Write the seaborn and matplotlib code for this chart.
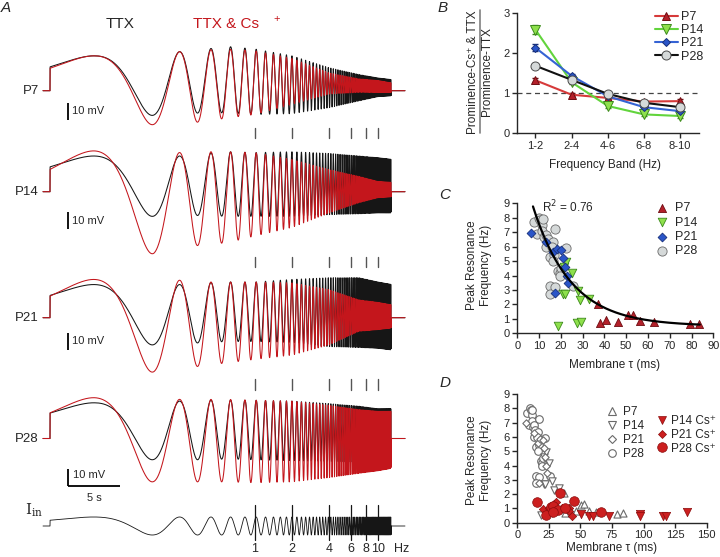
import numpy as np
import pandas as pd
import matplotlib
matplotlib.use("Agg")
import matplotlib.pyplot as plt
import seaborn as sns
from matplotlib.lines import Line2D

# ======================= DATA =======================
# ---- Panel A: exponential chirp stimulus and voltage responses
CHIRP_F0 = 0.0215      # Hz at sweep start
CHIRP_F1 = 12.8        # Hz at sweep end
CHIRP_DUR = 32.8       # s
FREQ_MARKS = [1, 2, 4, 6, 8, 10]
ROWS = ["P7", "P14", "P21", "P28"]
ENV_F = [0.05, 0.15, 0.25, 0.4, 0.6, 1, 2, 4, 7, 10, 13]   # Hz
# upper / lower excursion from rest (mV): TTX (black) and TTX & Cs+ (red)
P7_TTX_UP = [20.5, 22, 23, 24.5, 26, 24.5, 20.5, 13.5, 9.5, 7.5, 6.5]
P7_TTX_LO = [-15.5, -14.5, -13.5, -13, -13, -14, -13.5, -10, -6, -3.5, -3]
P7_CS_UP = [20.5, 22, 23, 24, 24.5, 23.5, 19, 10.5, 7, 6, 4.5]
P7_CS_LO = [-20, -20, -19.5, -18, -16, -14, -8, -2, -1, -1, -1]
P14_TTX_UP = [21, 21, 21, 22.5, 23.5, 23, 23.5, 22.5, 21, 20, 19]
P14_TTX_LO = [-14.5, -14.5, -14, -14, -14.5, -14.5, -14.5, -13.5, -13, -12.5, -12.5]
P14_CS_UP = [24, 23.5, 23, 23.5, 23.5, 23, 19, 13, 9, 6, 5.5]
P14_CS_LO = [-36.5, -36.5, -33, -31, -30, -26, -21, -12.5, -6.5, -3.5, -3]
P21_TTX_UP = [19.5, 19.5, 19.5, 20.5, 21, 21, 22.5, 23.5, 23.5, 21, 19.5]
P21_TTX_LO = [-16, -16, -15.5, -14.5, -14, -14, -14.5, -17, -17.5, -18, -19]
P21_CS_UP = [22.5, 22.5, 22, 21, 21, 21, 20.5, 16.5, 10.5, 9, 7.5]
P21_CS_LO = [-32, -32, -30, -28, -26.5, -24.5, -22, -16, -8, -7, -6]
P28_TTX_UP = [21, 22, 22, 22.5, 22.5, 22.5, 22, 20.5, 19, 17.5, 17.5]
P28_TTX_LO = [-12.5, -12.5, -12.5, -12.5, -12, -12.5, -13, -13.5, -14, -14, -14]
P28_CS_UP = [24, 23.5, 23, 23, 23, 22.5, 22, 19.5, 17, 16, 16]
P28_CS_LO = [-25.5, -25.5, -25.5, -25.5, -25.5, -26, -25.5, -23, -20.5, -19, -17.5]
IIN_AMP = 5.3          # stimulus drawing amplitude

# ---- Panel B
B_BANDS = ["1-2", "2-4", "4-6", "6-8", "8-10"]
B_P7 = [1.32, 0.96, 0.88, 0.79, 0.80]
B_P14 = [2.58, 1.27, 0.68, 0.47, 0.43]
B_P21 = [2.13, 1.43, 0.92, 0.65, 0.55]
B_P28 = [1.68, 1.33, 0.98, 0.76, 0.65]
B_P7_SEM = [0.05, 0.04, 0.03, 0.03, 0.05]
B_P14_SEM = [0.12, 0.05, 0.04, 0.04, 0.04]
B_P21_SEM = [0.08, 0.05, 0.04, 0.03, 0.03]
B_P28_SEM = [0.04, 0.03, 0.03, 0.03, 0.03]

# ---- Panel C (membrane tau ms, peak resonance frequency Hz)
C_P7_TAU = [37.2, 37.8, 40.8, 46.2, 50.8, 53.1, 56.5, 62.6, 79.1, 83.5]
C_P7_F = [2.05, 0.69, 0.95, 0.8, 1.25, 1.3, 0.85, 0.75, 0.62, 0.65]
C_P14_TAU = [18.5, 20.8, 22.0, 21.5, 22.4, 25.1, 27.7, 27.6, 29.2, 28.8, 33.1]
C_P14_F = [0.53, 2.7, 2.7, 4.6, 4.95, 4.2, 2.9, 0.68, 0.75, 2.3, 2.4]
C_P21_TAU = [6.5, 13.2, 16.4, 18.0, 20.2, 21.2, 22.0, 22.6, 23.2, 17.4]
C_P21_F = [6.95, 6.3, 5.6, 5.85, 5.8, 5.2, 4.6, 4.0, 3.45, 2.8]
C_P28_TAU = [7.7, 10.0, 10.5, 11.5, 9.2, 11.5, 12.3, 13.4, 14.3, 13.1, 16.2, 15.8, 14.9,
             16.9, 17.4, 22.3, 18.5, 19.7, 14.9, 17.4, 14.9, 25.8, 20.0, 16.5, 19.5, 12.0]
C_P28_F = [7.7, 8.0, 7.85, 7.5, 6.85, 7.1, 6.7, 6.8, 6.5, 6.0, 6.35, 6.0, 5.3,
           5.4, 7.25, 5.9, 4.3, 4.15, 3.3, 3.2, 2.75, 3.3, 4.5, 5.0, 4.0, 7.9]
C_FIT = (12.5, 17.5, 0.5)      # a, tau, c of exponential fit
C_FIT_RANGE = (7.2, 83.8)
C_R2 = 0.76

# ---- Panel D, Cs+ data
D_P14CS_TAU = [50.4, 57.0, 59.7, 73.0, 96.9, 97.4, 115.5, 118.1, 134.6]
D_P14CS_F = [0.6, 0.5, 0.5, 0.45, 0.6, 0.45, 0.5, 0.5, 0.75]
D_P21CS_TAU = [20.4, 25.2, 27.3, 29.2, 31.0, 35.3, 40.6, 41.0, 43.3]
D_P21CS_F = [0.93, 1.05, 0.84, 1.3, 1.45, 1.0, 1.0, 0.8, 0.5]
D_P28CS_TAU = [15.9, 22.6, 26.5, 28.4, 31.9, 33.7, 45.1, 38.0, 66.4, 27.9]
D_P28CS_F = [1.45, 0.55, 1.1, 1.2, 0.9, 2.05, 1.5, 1.0, 0.72, 0.75]

# ======================= STYLE =======================
sns.set_style("ticks")
plt.rcParams["font.family"] = ["Liberation Sans", "DejaVu Sans"]
plt.rcParams.update({
    "axes.linewidth": 1.0, "xtick.major.width": 1.0, "ytick.major.width": 1.0,
    "xtick.major.size": 3.5, "ytick.major.size": 3.5,
    "xtick.labelsize": 8, "ytick.labelsize": 8,
    "xtick.major.pad": 2, "ytick.major.pad": 2,
})

W, H = 720, 557
fig = plt.figure(figsize=(W / 100, H / 100), dpi=100)


def fpos(l, t, r, b):
    return [l / W, 1 - b / H, (r - l) / W, (b - t) / H]


def ftext(x, y, s, **kw):
    kw.setdefault("ha", "center")
    kw.setdefault("va", "center")
    fig.text(x / W, 1 - y / H, s, **kw)


RED = "#c4161c"
BLACK = "#161616"

# ======================= PANEL A =======================
PX_PER_S, PX_PER_MV, X0 = 10.4, 1.7, 50.0


def tx(xpx):
    return (xpx - X0) / PX_PER_S


def vy(ypx):
    return (H - ypx) / PX_PER_MV


axA = fig.add_axes([0, 0, 430 / W, 1])
axA.set_xlim(tx(0), tx(430))
axA.set_ylim(vy(H), vy(0))
axA.axis("off")

K = CHIRP_DUR / np.log(CHIRP_F1 / CHIRP_F0)
t = np.linspace(tx(43), tx(405), 40000)
on = (t >= 0) & (t <= CHIRP_DUR)
f_inst = CHIRP_F0 * np.exp(t / K)
stim = np.where(on, np.sin(2 * np.pi * f_inst * K), 0.0)
lf = np.log(np.clip(f_inst, ENV_F[0], ENV_F[-1]))


def response(up, lo):
    u = np.interp(lf, np.log(ENV_F), up)
    l = np.interp(lf, np.log(ENV_F), lo)
    return np.where(on, (u + l) / 2 + (u - l) / 2 * stim, 0.0)


TRACES = {
    "P7": (P7_TTX_UP, P7_TTX_LO, P7_CS_UP, P7_CS_LO),
    "P14": (P14_TTX_UP, P14_TTX_LO, P14_CS_UP, P14_CS_LO),
    "P21": (P21_TTX_UP, P21_TTX_LO, P21_CS_UP, P21_CS_LO),
    "P28": (P28_TTX_UP, P28_TTX_LO, P28_CS_UP, P28_CS_LO),
}
ROW_Y = {"P7": 90.7, "P14": 191.7, "P21": 317.7, "P28": 438.5}
BAR_BOTTOM = {"P7": 120, "P14": 229, "P21": 350, "P28": 486}

for row in ROWS:
    bu, bl, ru, rl = TRACES[row]
    base = vy(ROW_Y[row])
    sns.lineplot(x=t, y=base + response(bu, bl), ax=axA, color=BLACK, lw=0.75,
                 estimator=None, sort=False)
    sns.lineplot(x=t, y=base + response(ru, rl), ax=axA, color=RED, lw=0.75,
                 estimator=None, sort=False)
    ftext(39, ROW_Y[row], row, ha="right", fontsize=9.5)
    # 10 mV scale bar
    yb = vy(BAR_BOTTOM[row])
    axA.plot([tx(68), tx(68)], [yb, yb + 10], color="black", lw=1.3,
             solid_capstyle="butt")
    if row != "P28":
        axA.text(tx(72), yb + 5, "10 mV", fontsize=8, ha="left", va="center")

# L-shaped bar for P28
yb = vy(BAR_BOTTOM["P28"])
axA.plot([tx(68), tx(68) + 5], [yb, yb], color="black", lw=1.3, solid_capstyle="butt")
axA.text(tx(73), yb + 6.5, "10 mV", fontsize=8, ha="left", va="center")
axA.text(tx(68) + 2.5, vy(498), "5 s", fontsize=8, ha="center", va="center")

# frequency marks between rows
t_marks = [K * np.log(f / CHIRP_F0) for f in FREQ_MARKS]
for y0, y1 in [(128, 138), (257, 267), (379, 390)]:
    for tm in t_marks:
        axA.plot([tm, tm], [vy(y1), vy(y0)], color="#555555", lw=1.0)

# stimulus current
base_i = vy(526)
sns.lineplot(x=t, y=base_i + IIN_AMP * stim, ax=axA, color=BLACK, lw=0.6,
             estimator=None, sort=False)
for f, tm in zip(FREQ_MARKS, t_marks):
    axA.plot([tm, tm], [vy(540), vy(505)], color=BLACK, lw=0.9)
    axA.text(tm, vy(549), str(f), fontsize=9, ha="center", va="center")
axA.text(tx(402), vy(549), "Hz", fontsize=9, ha="center", va="center")
ftext(34, 510, r"$\mathregular{I}_{\mathregular{in}}$", fontsize=11,
      family=["DejaVu Serif"])

ftext(6, 8, "A", fontsize=11, style="italic")
ftext(120, 24, "TTX", fontsize=11)
ftext(193, 24, "TTX & Cs", fontsize=11, ha="left", color=RED)
ftext(277, 19, "+", fontsize=8, color=RED)

# ======================= PANEL B =======================
AGE_STYLE = {
    "P7": dict(marker="^", ms=6.0, mfc="#b3202a", mec="#6e0d12", line="#d63a3a"),
    "P14": dict(marker="v", ms=6.5, mfc="#8ee04c", mec="#3d8a1c", line="#62d43c"),
    "P21": dict(marker="D", ms=4.5, mfc="#2a55c8", mec="#18307a", line="#3563d4"),
    "P28": dict(marker="o", ms=6.5, mfc="#d5d9d9", mec="#4a4a4a", line="#111111"),
}
axB = fig.add_axes(fpos(517.3, 12.7, 699, 133.3))
xb = np.arange(len(B_BANDS))
axB.axhline(1, ls=(0, (4, 3)), color="#444444", lw=0.9, zorder=0)
for age, vals, err in [("P7", B_P7, B_P7_SEM), ("P14", B_P14, B_P14_SEM),
                       ("P21", B_P21, B_P21_SEM), ("P28", B_P28, B_P28_SEM)]:
    st = AGE_STYLE[age]
    axB.errorbar(xb, vals, yerr=err, fmt="none", ecolor=st["mec"], elinewidth=0.9,
                 capsize=2, zorder=2)
    sns.lineplot(x=xb, y=vals, ax=axB, color=st["line"], lw=1.5, marker=st["marker"],
                 markersize=st["ms"], markerfacecolor=st["mfc"],
                 markeredgecolor=st["mec"], markeredgewidth=0.7, label=age,
                 zorder=3)
axB.set_xlim(-0.5, 4.52)
axB.set_ylim(0, 3)
axB.set_xticks(xb)
axB.set_xticklabels(B_BANDS)
axB.set_yticks([0, 1, 2, 3])
axB.set_xlabel("")
axB.set_ylabel("")
sns.despine(ax=axB)
axB.legend(loc="upper left", bbox_to_anchor=(655 / W, 1 - 11 / H),
           bbox_transform=fig.transFigure, frameon=False, fontsize=9,
           handlelength=1.8, handletextpad=0.3, labelspacing=0.1,
           borderpad=0, borderaxespad=0)
ftext(605, 165, "Frequency Band (Hz)", fontsize=8.5)
ftext(472.5, 72, "Prominence-Cs\u207a & TTX", rotation=90, fontsize=8.5)
ftext(487, 72, "Prominence-TTX", rotation=90, fontsize=8.5)
fig.add_artist(Line2D([479.5 / W, 479.5 / W], [1 - 10 / H, 1 - 133 / H],
                      color="#808080", lw=1.2))
ftext(443, 8, "B", fontsize=11, style="italic")

# ======================= PANEL C =======================
SC_STYLE = {
    "P7": dict(marker="^", s=34, color="#b3202a", edgecolor="#6e0d12"),
    "P14": dict(marker="v", s=38, color="#8ee04c", edgecolor="#3d8a1c"),
    "P21": dict(marker="D", s=20, color="#2a55c8", edgecolor="#18307a"),
    "P28": dict(marker="o", s=44, color="#d5d9d9", edgecolor="#6a6a6a"),
}
C_DATA = {"P7": (C_P7_TAU, C_P7_F), "P14": (C_P14_TAU, C_P14_F),
          "P21": (C_P21_TAU, C_P21_F), "P28": (C_P28_TAU, C_P28_F)}

axC = fig.add_axes(fpos(517.3, 203.3, 713.3, 333.3))
for age in ["P28", "P14", "P21", "P7"]:
    xs, ys = C_DATA[age]
    sns.scatterplot(x=xs, y=ys, ax=axC, linewidth=0.6, label=age, zorder=3,
                    **SC_STYLE[age])
a, tau_fit, c = C_FIT
xf = np.linspace(C_FIT_RANGE[0], C_FIT_RANGE[1], 300)
sns.lineplot(x=xf, y=c + a * np.exp(-xf / tau_fit), ax=axC, color="black", lw=1.6,
             zorder=4)
axC.set_xlim(0, 90)
axC.set_ylim(0, 9)
axC.set_xticks(range(0, 91, 10))
axC.set_yticks(range(0, 10))
axC.set_xlabel("")
axC.set_ylabel("")
sns.despine(ax=axC)
h, l = axC.get_legend_handles_labels()
order = [l.index(k) for k in ROWS]
axC.legend([h[i] for i in order], [l[i] for i in order], loc="upper left",
           bbox_to_anchor=(656 / W, 1 - 202 / H), bbox_transform=fig.transFigure,
           frameon=False, fontsize=9, handlelength=1.0, handletextpad=0.5,
           labelspacing=0.2, borderpad=0, borderaxespad=0)
axC.text(541.7 / W, 1 - 207 / H, f"R$^2$ = {C_R2:.2f}", transform=fig.transFigure,
         fontsize=8.5, ha="left", va="center")
ftext(479, 265, "Peak Resonance\nFrequency (Hz)", rotation=90, fontsize=8.5,
      linespacing=1.2)
ftext(615, 365, "Membrane \u03c4 (ms)", fontsize=8.5)
ftext(445, 195, "C", fontsize=11, style="italic")

# ======================= PANEL D =======================
OPEN_STYLE = {
    "P7": dict(marker="^", s=26), "P14": dict(marker="v", s=28),
    "P21": dict(marker="D", s=14), "P28": dict(marker="o", s=30),
}
CS_STYLE = {
    "P14 Cs\u207a": dict(marker="v", s=36),
    "P21 Cs\u207a": dict(marker="D", s=18),
    "P28 Cs\u207a": dict(marker="o", s=48),
}
D_CS = {"P14 Cs\u207a": (D_P14CS_TAU, D_P14CS_F),
        "P21 Cs\u207a": (D_P21CS_TAU, D_P21CS_F),
        "P28 Cs\u207a": (D_P28CS_TAU, D_P28CS_F)}

axD = fig.add_axes(fpos(517.3, 394, 706.7, 522.7))
for age in ["P28", "P14", "P21", "P7"]:
    xs, ys = C_DATA[age]
    sns.scatterplot(x=xs, y=ys, ax=axD, color="white", edgecolor="#6a6a6a",
                    linewidth=0.8, zorder=3, **OPEN_STYLE[age])
for name in D_CS:
    xs, ys = D_CS[name]
    sns.scatterplot(x=xs, y=ys, ax=axD, color="#cc1f1f", edgecolor="#8a0c0c",
                    linewidth=0.5, zorder=4, **CS_STYLE[name])
axD.set_xlim(0, 150)
axD.set_ylim(0, 9)
axD.set_xticks(range(0, 151, 25))
axD.set_yticks(range(0, 10))
axD.set_xlabel("")
axD.set_ylabel("")
sns.despine(ax=axD)

open_handles = [Line2D([], [], ls="none", marker=OPEN_STYLE[a]["marker"],
                       markersize=np.sqrt(OPEN_STYLE[a]["s"]),
                       markerfacecolor="white", markeredgecolor="#6a6a6a",
                       markeredgewidth=0.8) for a in ROWS]
leg1 = axD.legend(open_handles, ROWS, loc="upper left",
                  bbox_to_anchor=(606 / W, 1 - 406 / H),
                  bbox_transform=fig.transFigure, frameon=False, fontsize=8.5,
                  handlelength=1.0, handletextpad=0.4, labelspacing=0.18,
                  borderpad=0, borderaxespad=0)
axD.add_artist(leg1)
cs_handles = [Line2D([], [], ls="none", marker=CS_STYLE[n]["marker"],
                     markersize=np.sqrt(CS_STYLE[n]["s"]),
                     markerfacecolor="#cc1f1f", markeredgecolor="#8a0c0c",
                     markeredgewidth=0.5) for n in D_CS]
axD.legend(cs_handles, list(D_CS), loc="upper left",
           bbox_to_anchor=(656 / W, 1 - 415 / H),
           bbox_transform=fig.transFigure, frameon=False, fontsize=8.5,
           handlelength=1.0, handletextpad=0.3, labelspacing=0.15,
           borderpad=0, borderaxespad=0)
ftext(479, 460, "Peak Resonance\nFrequency (Hz)", rotation=90, fontsize=8.5,
      linespacing=1.2)
ftext(612, 548, "Membrane \u03c4 (ms)", fontsize=8.5)
ftext(445, 383, "D", fontsize=11, style="italic")

fig.savefig("out.png", dpi=100)
